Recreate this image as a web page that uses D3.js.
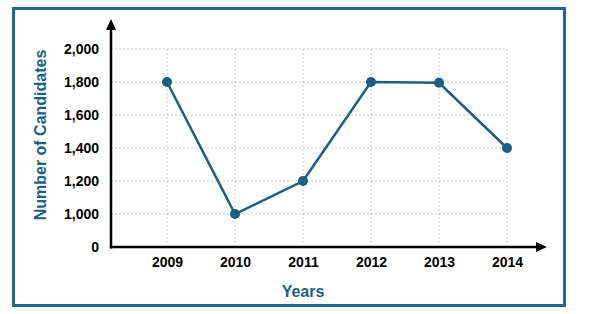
<!DOCTYPE html>
<html><head><meta charset="utf-8">
<script src="https://cdn.jsdelivr.net/npm/d3@7"></script>
<style>body{margin:0;background:#fff}svg{display:block}</style>
</head><body>
<svg id="c" width="605" height="314"></svg>
<script>
const years = ["2009","2010","2011","2012","2013","2014"];
const candidates = [1800, 1000, 1200, 1800, 1795, 1400];
const yTicks = [800, 1000, 1200, 1400, 1600, 1800, 2000];
const yTickLabels = ["0", "1,000", "1,200", "1,400", "1,600", "1,800", "2,000"];

const svg = d3.select("#c");
const blue = "#1a5f85";
const font = "'Liberation Sans', Arial, sans-serif";

svg.append("rect").attr("x",13.5).attr("y",8.5).attr("width",551).attr("height",297)
  .attr("fill","#fff").attr("stroke","#1f6891").attr("stroke-width",3);

const x = d3.scalePoint().domain(years).range([167, 507]);
const y = d3.scaleLinear().domain([800, 2000]).range([247, 49]);
const x0 = 111;

const g = svg.append("g");
// horizontal grid
g.selectAll(".hg").data(yTicks.slice(1)).join("line")
  .attr("x1", x0).attr("x2", 507).attr("y1", d=>y(d)).attr("y2", d=>y(d))
  .attr("stroke","#c8c8c8").attr("stroke-width",1).attr("stroke-dasharray","2,2");
// vertical grid
g.selectAll(".vg").data(years).join("line")
  .attr("x1", d=>x(d)).attr("x2", d=>x(d)).attr("y1", y(2000)).attr("y2", y(800))
  .attr("stroke","#c8c8c8").attr("stroke-width",1).attr("stroke-dasharray","2,2");

// axes
const yAxis = d3.axisLeft(y).tickValues(yTicks).tickSize(0).tickPadding(12)
  .tickFormat((d,i)=>yTickLabels[i]);
const ya = svg.append("g").attr("transform",`translate(${x0},0)`).call(yAxis);
ya.select(".domain").remove();
ya.selectAll("text").attr("font-family",font).attr("font-size",14).attr("font-weight","bold").attr("fill","#000");

const xAxis = d3.axisBottom(x).tickSize(0).tickPadding(10);
const xa = svg.append("g").attr("transform",`translate(0,${y(800)})`).call(xAxis);
xa.select(".domain").remove();
xa.selectAll("text").attr("font-family",font).attr("font-size",14).attr("font-weight","bold").attr("fill","#000");

// axis lines with arrows
svg.append("line").attr("x1",x0).attr("x2",x0).attr("y1",y(800)+1.5).attr("y2",29)
  .attr("stroke","#000").attr("stroke-width",2.5);
svg.append("path").attr("d",`M${x0-5},30 L${x0},19 L${x0+5},30 Z`).attr("fill","#000");
svg.append("line").attr("x1",x0-1.25).attr("x2",537).attr("y1",y(800)).attr("y2",y(800))
  .attr("stroke","#000").attr("stroke-width",2.5);
svg.append("path").attr("d",`M536,${y(800)-5} L547,${y(800)} L536,${y(800)+5} Z`).attr("fill","#000");

// line + points
const line = d3.line().x((d,i)=>x(years[i])).y(d=>y(d));
svg.append("path").datum(candidates).attr("d",line).attr("fill","none")
  .attr("stroke",blue).attr("stroke-width",2.5);
svg.selectAll(".pt").data(candidates).join("circle")
  .attr("cx",(d,i)=>x(years[i])).attr("cy",d=>y(d)).attr("r",5).attr("fill",blue);

// titles
svg.append("text").attr("x",303).attr("y",297).attr("text-anchor","middle")
  .attr("font-family",font).attr("font-size",16).attr("font-weight","bold").attr("fill",blue).text("Years");
svg.append("text").attr("transform","translate(46,135) rotate(-90)").attr("text-anchor","middle")
  .attr("font-family",font).attr("font-size",16).attr("font-weight","bold").attr("fill",blue).text("Number of Candidates");
</script>
</body></html>
